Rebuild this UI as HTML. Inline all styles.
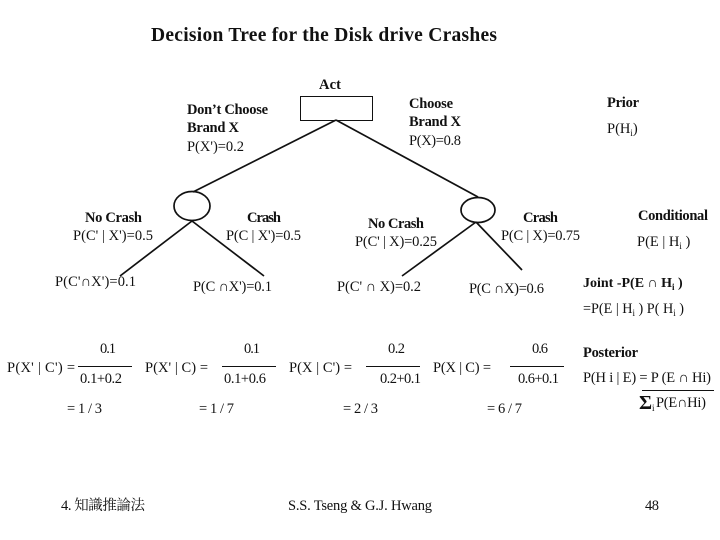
<!DOCTYPE html>
<html>
<head>
<meta charset="utf-8">
<title>Decision Tree for the Disk drive Crashes</title>
<style>
html,body{margin:0;padding:0;background:#fff;width:720px;height:540px;overflow:hidden}
svg{display:block}
text{font-family:"Liberation Serif","Noto Serif CJK SC",serif;font-size:14.5px;fill:#111;white-space:pre}
.b{font-weight:bold}
.s{font-size:9px}
</style>
</head>
<body>
<svg width="720" height="540" viewBox="0 0 720 540" xmlns="http://www.w3.org/2000/svg">
<rect width="720" height="540" fill="#fff"/>
<text class="b" x="151" y="41" textLength="346" style="font-size:19.5px">Decision Tree for the Disk drive Crashes</text>

<g fill="none" stroke="#111" stroke-width="1.7">
<rect x="300.5" y="96.5" width="72" height="24" fill="#fff" stroke-width="1"/>
<line x1="336" y1="120" x2="193" y2="192"/>
<line x1="336" y1="120" x2="478" y2="197"/>
<ellipse cx="192" cy="206" rx="18" ry="14.5"/>
<ellipse cx="478" cy="210" rx="17" ry="12.5"/>
<line x1="192" y1="221" x2="120" y2="276"/>
<line x1="192" y1="221" x2="264" y2="276"/>
<line x1="476" y1="222" x2="402" y2="276"/>
<line x1="476" y1="222" x2="522" y2="270"/>
</g>
<g stroke="#111" stroke-width="1">
<line x1="78" y1="366.5" x2="132" y2="366.5"/>
<line x1="222" y1="366.5" x2="276" y2="366.5"/>
<line x1="366" y1="366.5" x2="420" y2="366.5"/>
<line x1="510" y1="366.5" x2="564" y2="366.5"/>
<line x1="642" y1="390.5" x2="714" y2="390.5"/>
</g>

<text class="b" x="319" y="89" textLength="22">Act</text>
<text class="b" x="187" y="114" textLength="81">Don’t Choose</text>
<text class="b" x="187" y="132" textLength="52">Brand X</text>
<text x="187" y="151" textLength="57">P(X')=0.2</text>
<text class="b" x="409" y="108" textLength="44">Choose</text>
<text class="b" x="409" y="126" textLength="52">Brand X</text>
<text x="409" y="145" textLength="52">P(X)=0.8</text>
<text class="b" x="607" y="107" textLength="32">Prior</text>
<text x="607" y="133">P(H<tspan class="s" dy="3">i</tspan><tspan dy="-3">)</tspan></text>

<text class="b" x="85" y="222" textLength="57">No Crash</text>
<text x="73" y="240" textLength="80">P(C' | X')=0.5</text>
<text class="b" x="247" y="222" textLength="34">Crash</text>
<text x="226" y="240" textLength="75">P(C | X')=0.5</text>
<text class="b" x="368" y="228" textLength="56">No Crash</text>
<text x="355" y="246" textLength="82">P(C' | X)=0.25</text>
<text class="b" x="523" y="222" textLength="35">Crash</text>
<text x="501" y="240" textLength="79">P(C | X)=0.75</text>
<text class="b" x="638" y="220" textLength="70">Conditional</text>
<text x="637" y="246">P(E | H<tspan class="s" dy="3">i</tspan><tspan dy="-3"> )</tspan></text>

<text x="55" y="286" textLength="81">P(C'∩X')=0.1</text>
<text x="193" y="291" textLength="79">P(C ∩X')=0.1</text>
<text x="337" y="291" textLength="84">P(C' ∩ X)=0.2</text>
<text x="469" y="293" textLength="75">P(C ∩X)=0.6</text>
<text class="b" x="583" y="287" style="font-size:14px">Joint -P(E ∩ H<tspan class="s" dy="3">i</tspan><tspan dy="-3"> )</tspan></text>
<text x="583" y="313" style="font-size:14.2px">=P(E | H<tspan class="s" dy="3">i</tspan><tspan dy="-3"> ) P( H</tspan><tspan class="s" dy="3">i</tspan><tspan dy="-3"> )</tspan></text>

<text x="100" y="353" textLength="16">0.1</text>
<text x="7" y="372" textLength="68">P(X' | C') =</text>
<text x="80" y="383" textLength="42">0.1+0.2</text>
<text x="67" y="413" textLength="35">= 1 / 3</text>

<text x="244" y="353" textLength="16">0.1</text>
<text x="145" y="372" textLength="63">P(X' | C) =</text>
<text x="224" y="383" textLength="42">0.1+0.6</text>
<text x="199" y="413" textLength="35">= 1 / 7</text>

<text x="388" y="353" textLength="17">0.2</text>
<text x="289" y="372" textLength="63">P(X | C') =</text>
<text x="380" y="383" textLength="41">0.2+0.1</text>
<text x="343" y="413" textLength="35">= 2 / 3</text>

<text x="532" y="353" textLength="16">0.6</text>
<text x="433" y="372" textLength="58">P(X | C) =</text>
<text x="518" y="383" textLength="41">0.6+0.1</text>
<text x="487" y="413" textLength="35">= 6 / 7</text>

<text class="b" x="583" y="357" textLength="55">Posterior</text>
<text x="583" y="382" textLength="128">P(H i | E) = P (E ∩ Hi)</text>
<text class="b" x="639" y="409" style="font-size:20px">Σ</text>
<text class="s" x="652" y="411">i</text>
<text x="656" y="407" textLength="50">P(E∩Hi)</text>

<text x="61" y="510" textLength="84">4. 知識推論法</text>
<text x="288" y="510" textLength="144">S.S. Tseng &amp; G.J. Hwang</text>
<text x="645" y="510" textLength="14">48</text>
</svg>
</body>
</html>
